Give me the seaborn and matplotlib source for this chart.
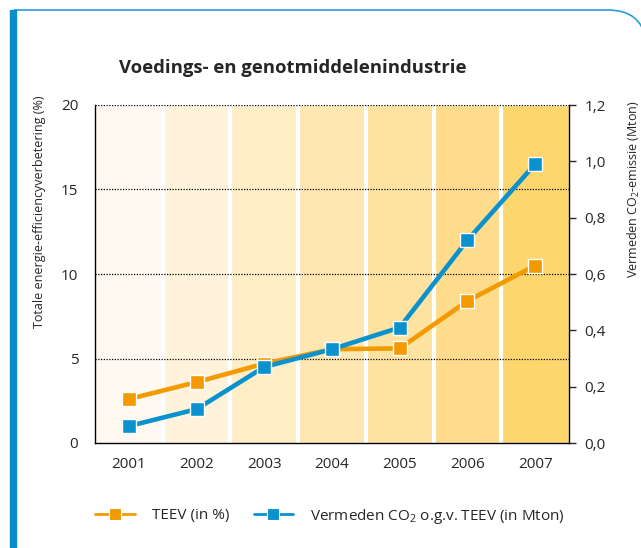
import matplotlib
matplotlib.use("Agg")
import matplotlib.pyplot as plt
import pandas as pd
import seaborn as sns
from matplotlib.lines import Line2D
from matplotlib.path import Path
from matplotlib.patches import PathPatch, Rectangle

sns.set_style("white")
plt.rcParams['font.family'] = ['Open Sans', 'DejaVu Sans']
plt.rcParams['mathtext.fontset'] = 'custom'
plt.rcParams['mathtext.rm'] = 'Open Sans'

# data
years = ['2001', '2002', '2003', '2004', '2005', '2006', '2007']
teev = [2.6, 3.6, 4.7, 5.55, 5.6, 8.4, 10.5]          # %
co2 = [0.06, 0.12, 0.27, 0.333, 0.41, 0.72, 0.99]     # Mton
band_colors = ['#FFF9EF', '#FFF3DB', '#FFEDC6', '#FFE7B2',
               '#FEE29F', '#FEDC8C', '#FDD66E']
left_ticks = [0, 5, 10, 15, 20]
right_ticks = [0.0, 0.2, 0.4, 0.6, 0.8, 1.0, 1.2]
right_labels = ['0,0', '0,2', '0,4', '0,6', '0,8', '1,0', '1,2']

orange = '#F29A00'
blue = '#0A92CE'

df = pd.DataFrame({'year': years, 'teev': teev, 'co2': co2})

fig = plt.figure(figsize=(6.41, 5.48), dpi=100)
ax = fig.add_axes([95 / 641, 1 - 443 / 548, 474 / 641, 338 / 548])

# year bands
ax.bar(df['year'], 20, width=1.0, color=band_colors, zorder=0)
for i in range(len(years) - 1):
    ax.axvline(i + 0.5, color='white', lw=3, zorder=1)
ax.set_xlim(-0.5, len(years) - 0.5)
ax.set_ylim(0, 20)

for v in left_ticks[1:]:
    ax.axhline(v, color='black', lw=0.9, ls=(0, (1, 1.2)), zorder=2)

sns.lineplot(data=df, x='year', y='teev', ax=ax, color=orange, lw=3.3,
             marker='s', markersize=10, markeredgecolor='white',
             markeredgewidth=1, zorder=5)

ax2 = ax.twinx()
sns.lineplot(data=df, x='year', y='co2', ax=ax2, color=blue, lw=3.3,
             marker='s', markersize=10, markeredgecolor='white',
             markeredgewidth=1, zorder=5)
ax2.set_ylim(0, 1.2)

ax.set_yticks(left_ticks)
ax.set_yticklabels([str(t) for t in left_ticks])
ax.tick_params(axis='y', length=0, pad=12, labelsize=11)
ax.tick_params(axis='x', length=0, pad=10, labelsize=11)
ax2.set_yticks(right_ticks)
ax2.set_yticklabels(right_labels)
ax2.tick_params(axis='y', length=5, width=1, pad=6, labelsize=11,
                direction='out', right=True)
ax.set_xlabel('')
ax.set_ylabel('')
ax2.set_ylabel('')

for a in (ax, ax2):
    a.spines['top'].set_visible(False)
    for s in ('left', 'right', 'bottom'):
        a.spines[s].set_color('black')
        a.spines[s].set_linewidth(1)
ax.spines['right'].set_visible(False)
ax2.spines['left'].set_visible(False)
ax2.spines['bottom'].set_visible(False)

# titles / axis labels
fig.text(293 / 641, 1 - 68 / 548, 'Voedings- en genotmiddelenindustrie',
         ha='center', va='center', fontsize=13.3, fontweight='bold')
fig.text(40 / 641, 1 - 212 / 548, 'Totale energie-efficiencyverbetering (%)',
         rotation=90, ha='center', va='center', fontsize=9,
         family=['Liberation Sans Narrow', 'Open Sans'])
fig.text(634 / 641, 1 - 189 / 548, 'Vermeden CO$_2$-emissie (Mton)',
         rotation=90, ha='center', va='center', fontsize=9,
         family=['Liberation Sans Narrow', 'Open Sans'])

# legend
handles = [
    Line2D([], [], color=orange, lw=2, marker='s', markersize=8,
           markeredgecolor='white', markeredgewidth=0.8),
    Line2D([], [], color=blue, lw=2, marker='s', markersize=8,
           markeredgecolor='white', markeredgewidth=0.8),
]
fig.legend(handles, ['TEEV (in %)', 'Vermeden CO$_2$ o.g.v. TEEV (in Mton)'],
           loc='center', bbox_to_anchor=(330 / 641, 1 - 516 / 548), ncol=2,
           frameon=False, fontsize=11, handlelength=2.6, columnspacing=1.6,
           handletextpad=1.1)

# frame: thick blue bar on the left, thin line on top with rounded corner
H = 548.0
W = 641.0
verts = [(14 / W, 1 - 10 / H), (608 / W, 1 - 10 / H), (641 / W, 1 - 10 / H),
         (646 / W, 1 - 40 / H)]
path = Path(verts, [Path.MOVETO, Path.LINETO, Path.CURVE3, Path.CURVE3])
fig.patches.append(PathPatch(path, transform=fig.transFigure, fill=False,
                             edgecolor='#2A9DD6', lw=1.2))
fig.patches.append(Rectangle((10 / W, 0), 6 / W, 1 - 10 / H,
                             transform=fig.transFigure, color='#0A8CCB'))

fig.savefig('out.png', dpi=100)
